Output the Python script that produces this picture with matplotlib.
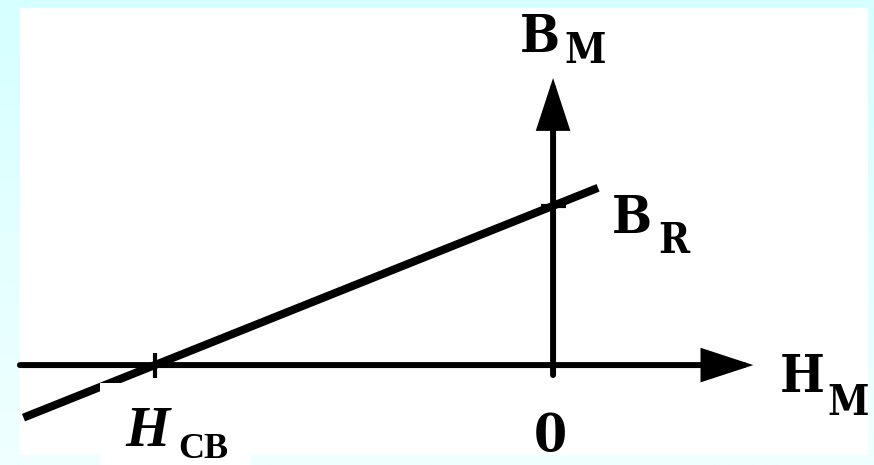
import numpy as np
import matplotlib.pyplot as plt
from matplotlib.patches import Rectangle

# demagnetisation line of a permanent magnet, in arbitrary units
h_cb = -1.0          # coercive force (intercept on H axis)
b_r = 0.4            # remanence (intercept on B axis)
h_line = [-1.33, 0.113]
b_line = [b_r * (1 - h / h_cb) for h in h_line]

h_axis = (-1.339, 0.503)
b_axis = (-0.025, 0.721)

fig = plt.figure(figsize=(8.74, 4.65), dpi=100)

# pale cyan backdrop, fading downwards
bg = fig.add_axes([0, 0, 1, 1], zorder=-1)
grad = np.linspace(0, 1, 256).reshape(-1, 1)
top = np.array([214, 255, 255]) / 255
bot = np.array([240, 255, 255]) / 255
bg.imshow(top + grad[..., None] * (bot - top), aspect="auto", extent=[0, 1, 0, 1])
bg.axis("off")

ax = fig.add_axes([0, 0, 1, 1])
ax.set_xlim(-1.389, 0.806)
ax.set_ylim(-0.251, 0.917)
ax.axis("off")
ax.patch.set_alpha(0)

# white panel
ax.add_patch(Rectangle((-1.339, -0.226), 2.130, 1.123, facecolor="white",
                       edgecolor="none", zorder=0))

arrow = dict(arrowstyle="-|>,head_length=2.9,head_width=0.95", mutation_scale=10,
             lw=4.3, color="black", shrinkA=0, shrinkB=0, joinstyle="miter")
ax.annotate("", xy=(h_axis[1], 0), xytext=(h_axis[0], 0), arrowprops=arrow, zorder=2)
ax.annotate("", xy=(0, b_axis[1]), xytext=(0, b_axis[0]), arrowprops=arrow, zorder=2)

ax.plot(h_line, b_line, color="black", lw=5.8, solid_capstyle="butt", zorder=3)
ax.plot([h_cb], [0], marker="|", ms=18, mew=3, color="black", zorder=3)
ax.plot([0], [b_r], marker="_", ms=18, mew=3, color="black", zorder=3)

# white patch behind the H_CB label
ax.add_patch(Rectangle((-1.138, -0.251), 0.377, 0.206, facecolor="white",
                       edgecolor="none", zorder=4))

serif = dict(family="DejaVu Serif", weight="bold", fontstretch="condensed",
             color="black", ha="left", va="baseline", zorder=5)
ax.text(-0.083, 0.786, "B", fontsize=38, **serif)
ax.text(0.028, 0.759, "M", fontsize=30, **serif)
ax.text(0.148, 0.332, "B", fontsize=38, **serif)
ax.text(0.264, 0.281, "R", fontsize=30, **serif)
ax.text(0.570, -0.068, "H", fontsize=38, **serif)
ax.text(0.690, -0.126, "M", fontsize=30, **serif)
ax.text(-0.0075, -0.216, "0", fontsize=38, **dict(serif, ha="center"))

times = dict(family="Liberation Serif", weight="bold", color="black",
             ha="left", va="baseline", zorder=5)
ax.text(-1.075, -0.204, "H", fontsize=41, style="italic", **times)
ax.text(-0.942, -0.233, "CB", fontsize=26, **times)

fig.savefig("out.png", dpi=100)
